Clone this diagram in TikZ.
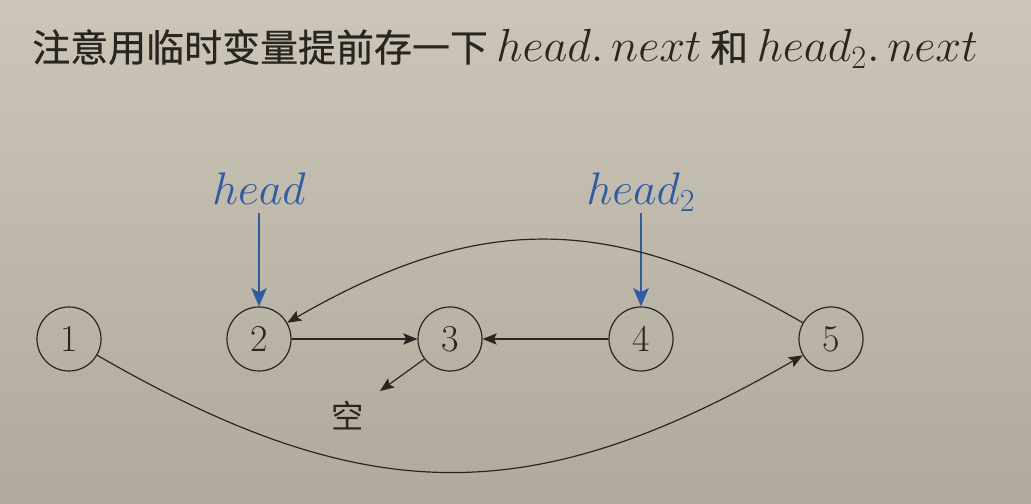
\RequirePackage{fix-cm}
\documentclass[tikz,border=0pt]{standalone}
\usepackage{fontspec}
\newfontfamily\cjk[FakeBold=0.6]{Noto Sans CJK SC}
\newfontfamily\cjkplain{Noto Sans CJK SC}
\usetikzlibrary{arrows.meta}
\definecolor{bgtop}{RGB}{204,198,184}
\definecolor{bgbot}{RGB}{176,170,157}
\definecolor{ptrblue}{RGB}{46,92,160}
\definecolor{ink}{RGB}{42,37,32}
\newcommand{\mbig}[1]{{\fontsize{33}{36}\selectfont$#1$}}
\begin{document}
\begin{tikzpicture}[x=0.025cm,y=0.025cm,
  every node/.style={font=\fontsize{27}{30}\selectfont, text=ink},
  lnode/.style={circle, draw=ink, line width=0.85pt, minimum size=1.6cm, inner sep=0pt},
  link/.style={draw=ink, line width=0.85pt, -{Stealth[length=10pt,width=8pt,inset=2pt]}},
  ptr/.style={draw=ptrblue, line width=1.4pt, -{Stealth[length=13pt,width=11pt,inset=3pt]}},
  plabel/.style={text=ptrblue, anchor=south, inner sep=0.5pt, text depth=5pt, font=\fontsize{32.5}{35}\selectfont}]
\shade[top color=bgtop, bottom color=bgbot] (0,0) rectangle (1031,504);
\useasboundingbox (0,0) rectangle (1031,504);
\node[anchor=west, inner sep=0pt] (title) at (32,455) {\cjk 注意用临时变量提前存一下 \mbig{head.\,next} 和 \mbig{head_2.\,next}};
\node[lnode] (n1) at (69,165) {1};
\node[lnode] (n2) at (259,165) {2};
\node[lnode] (n3) at (450,165) {3};
\node[lnode] (n4) at (641,165) {4};
\node[lnode] (n5) at (831,165) {5};
\node[plabel] (h1) at (259,291) {$head$};
\node[plabel] (h2) at (641,291) {$head_2$};
\node[inner sep=0pt, font=\fontsize{23}{26}\selectfont\cjkplain] (null) at (348,88) {空};
\coordinate (nullend) at (380,113);
\draw[ptr] (h1.south) -- (n2.north);
\draw[ptr] (h2.south) -- (n4.north);
\draw[link] (n2) -- (n3);
\draw[link] (n4) -- (n3);
\draw[link] (n3.218) -- (nullend);
\draw[link] (n5) to[out=150, in=30, looseness=1.1] (n2);
\draw[link] (n1) to[out=-30, in=-150, looseness=1.13] (n5);
\end{tikzpicture}
\end{document}
